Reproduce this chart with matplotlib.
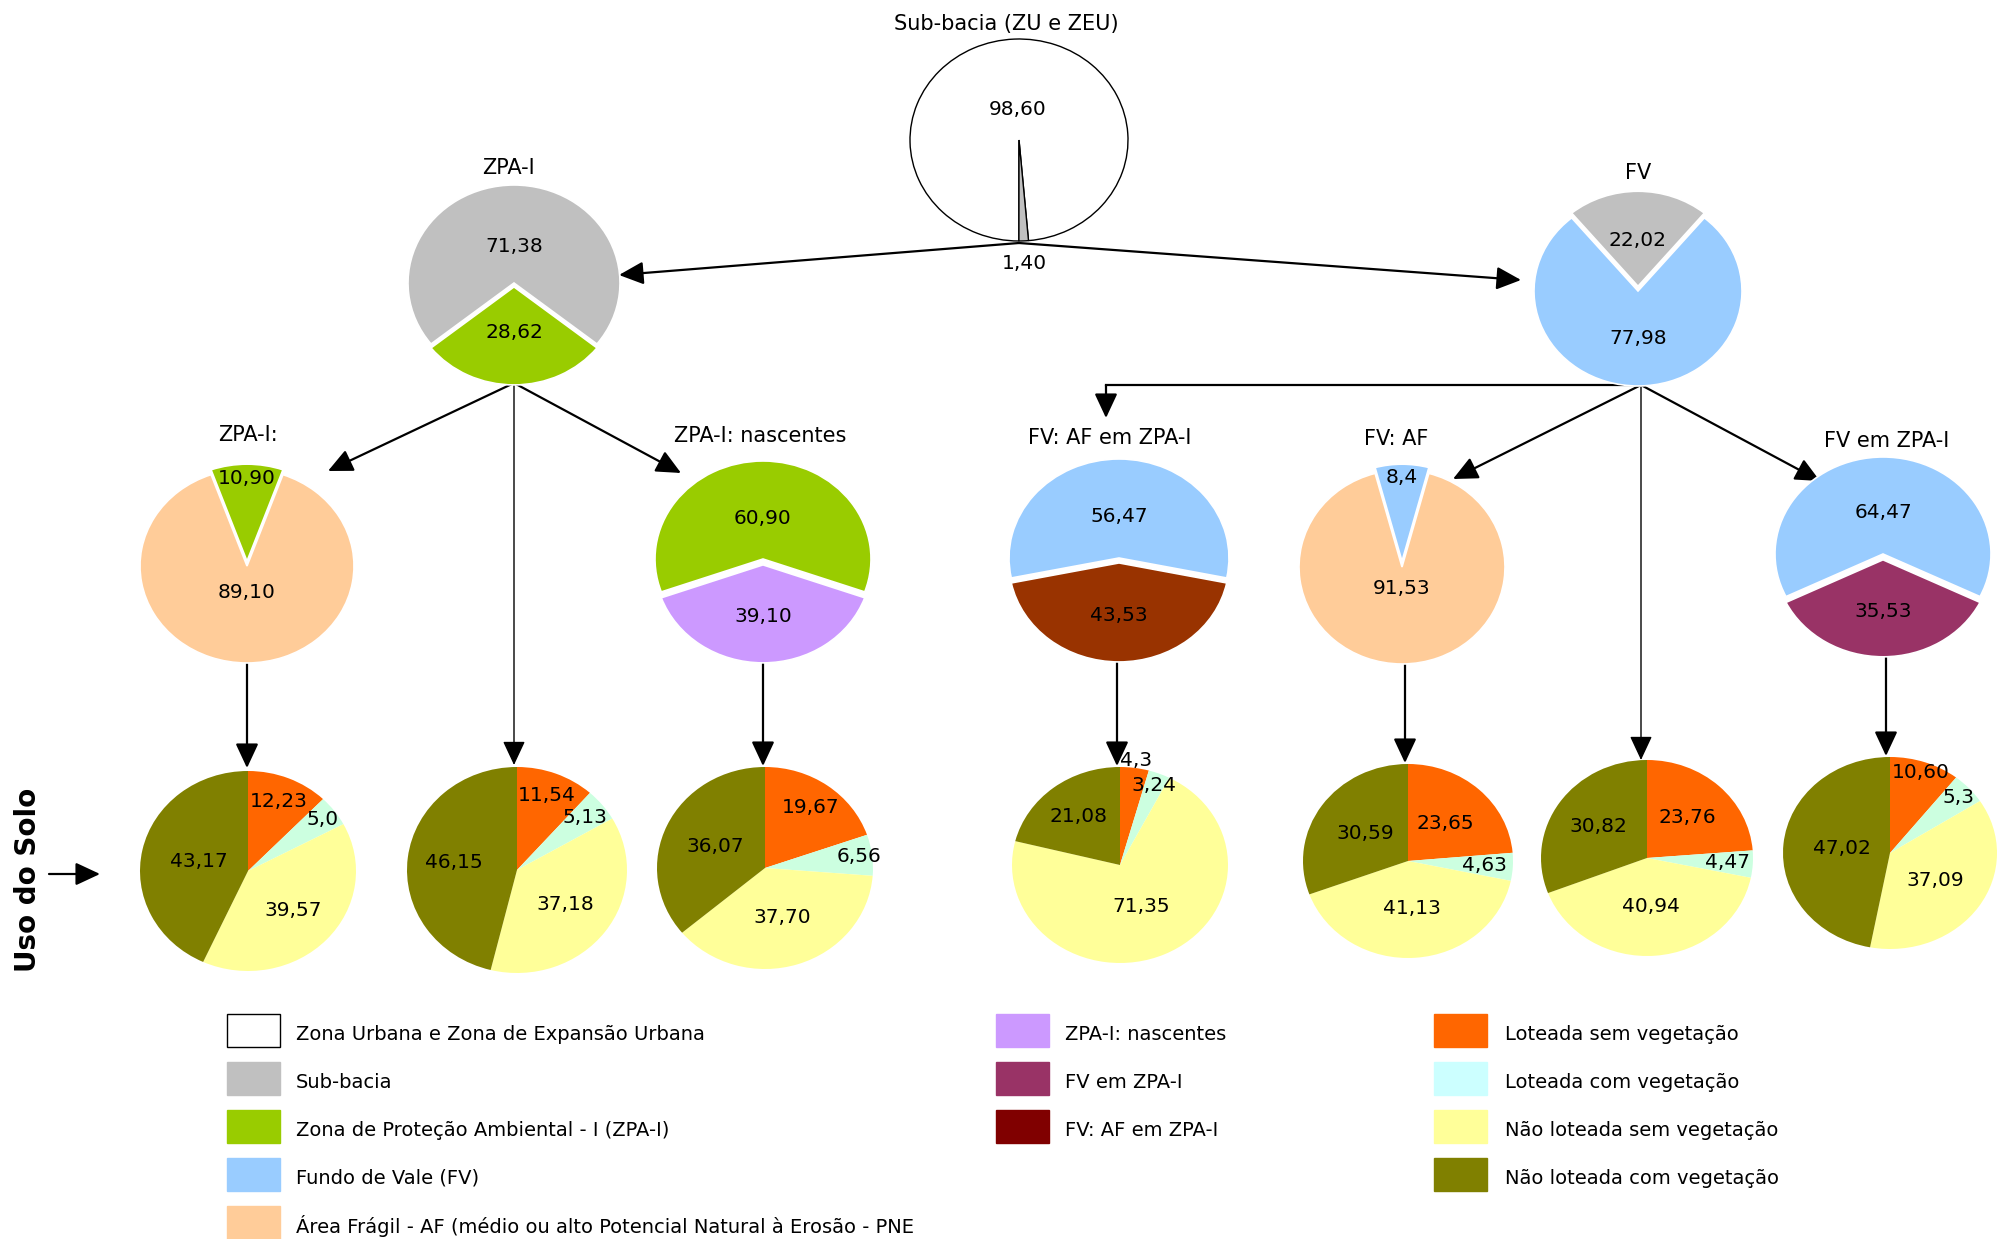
import matplotlib
matplotlib.use("Agg")
import matplotlib.pyplot as plt
from matplotlib.patches import Rectangle
import numpy as np

plt.rcParams["font.family"] = ["DejaVu Sans"]

W, H = 1997, 1239

# colours
WHITE = "#FFFFFF"
GRAY = "#C0C0C0"
GREEN = "#99CC00"
BLUE = "#99CCFF"
PEACH = "#FFCC99"
LILAC = "#CC99FF"
PLUM = "#993366"
RUST = "#993300"
MAROON = "#800000"
ORANGE = "#FF6600"
MINT = "#CCFFE0"
CYAN = "#CCFFFF"
YELLOW = "#FFFF99"
OLIVE = "#808000"

# percentages as printed (decimal comma)
sub_bacia = ["98,60", "1,40"]
zpa = ["71,38", "28,62"]
fv = ["22,02", "77,98"]
zpa_af = ["10,90", "89,10"]
zpa_nasc = ["60,90", "39,10"]
fv_af_zpa = ["56,47", "43,53"]
fv_af = ["8,4", "91,53"]
fv_zpa = ["64,47", "35,53"]

# land use: loteada s/ veg, loteada c/ veg, nao loteada s/ veg, nao loteada c/ veg
uso_zpa_af = ["12,23", "5,0", "39,57", "43,17"]
uso_zpa = ["11,54", "5,13", "37,18", "46,15"]
uso_zpa_nasc = ["19,67", "6,56", "37,70", "36,07"]
uso_fv_af_zpa = ["4,3", "3,24", "71,35", "21,08"]
uso_fv_af = ["23,65", "4,63", "41,13", "30,59"]
uso_fv = ["23,76", "4,47", "40,94", "30,82"]
uso_fv_zpa = ["10,60", "5,3", "37,09", "47,02"]

legend_zonas = ["Zona Urbana e Zona de Expansão Urbana", "Sub-bacia",
                "Zona de Proteção Ambiental - I (ZPA-I)", "Fundo de Vale (FV)",
                "Área Frágil - AF (médio ou alto Potencial Natural à Erosão - PNE"]
legend_sub = ["ZPA-I: nascentes", "FV em ZPA-I", "FV: AF em ZPA-I"]
legend_uso = ["Loteada sem vegetação", "Loteada com vegetação",
              "Não loteada sem vegetação", "Não loteada com vegetação"]

USO_COLORS = [ORANGE, MINT, YELLOW, OLIVE]

fig = plt.figure(figsize=(W / 100, H / 100), dpi=100)
ax = fig.add_axes([0, 0, 1, 1])
ax.set_xlim(0, W)
ax.set_ylim(H, 0)
ax.axis("off")


def num(s):
    return float(s.replace(",", "."))


def draw_pie(cx, cy, rx, ry, values, colors, lab_r, start=None, explode=None,
             counterclock=True, edge="white", lw=1.2, fs=14.5):
    pax = fig.add_axes([(cx - rx) / W, 1 - (cy + ry) / H, 2 * rx / W, 2 * ry / H])
    vals = [num(v) for v in values]
    if explode is None:
        explode = [0] * len(vals)
    if start is None:
        start = 90 - vals[0] * 1.8
    wedges, _ = pax.pie(vals, colors=colors, startangle=start, explode=explode,
                        counterclock=counterclock,
                        wedgeprops=dict(edgecolor=edge, linewidth=lw))
    pax.set_aspect("auto")
    pax.set_xlim(-1, 1)
    pax.set_ylim(-1, 1)
    pax.axis("off")
    for w, txt, r, e in zip(wedges, values, lab_r, explode):
        w.set_clip_on(False)
        mid = np.deg2rad((w.theta1 + w.theta2) / 2)
        pax.text((r + e) * np.cos(mid), (r + e) * np.sin(mid), txt,
                 ha="center", va="center", fontsize=fs, clip_on=False)
    return pax


def arrow(x0, y0, x1, y1, lw=1.6):
    ax.annotate("", xy=(x1, y1), xytext=(x0, y0),
                arrowprops=dict(arrowstyle="-|>,head_length=0.75,head_width=0.35",
                                mutation_scale=20, color="black", lw=lw,
                                shrinkA=0, shrinkB=0))


# connectors
arrow(1019, 243, 619, 275)
arrow(1019, 243, 1521, 280)
arrow(514, 383, 328, 471)
arrow(514, 383, 681, 473)
arrow(514, 383, 514, 765, lw=1.0)
ax.plot([1106, 1641], [385, 385], color="black", lw=1.6)
arrow(1106, 385, 1106, 418)
arrow(1641, 385, 1453, 479)
arrow(1641, 385, 1820, 481)
arrow(1641, 385, 1641, 760, lw=1.0)
arrow(247, 663, 247, 768)
arrow(763, 661, 763, 766)
arrow(1117, 662, 1117, 766)
arrow(1405, 664, 1405, 763)
arrow(1886, 656, 1886, 756)

TITLE_FS = 15

# top level
draw_pie(1019, 140, 109, 101, sub_bacia, [WHITE, GRAY], [0.3, 1.22], start=275,
         edge="black", lw=1.0)
ax.text(1006, 24, "Sub-bacia (ZU e ZEU)", ha="center", va="center", fontsize=TITLE_FS)

draw_pie(514, 283, 106, 98, zpa, [GRAY, GREEN], [0.37, 0.47], explode=[0, 0.04])
ax.text(508, 168, "ZPA-I", ha="center", va="center", fontsize=TITLE_FS)

draw_pie(1638, 291, 104, 95, fv, [GRAY, BLUE], [0.48, 0.5], explode=[0.05, 0])
ax.text(1638, 173, "FV", ha="center", va="center", fontsize=TITLE_FS)

# second level
draw_pie(247, 566, 107, 97, zpa_af, [GREEN, PEACH], [0.85, 0.27], explode=[0.05, 0])
ax.text(248, 435, "ZPA-I:", ha="center", va="center", fontsize=TITLE_FS)

draw_pie(763, 559, 108, 98, zpa_nasc, [GREEN, LILAC], [0.41, 0.53], explode=[0, 0.06])
ax.text(760, 436, "ZPA-I: nascentes", ha="center", va="center", fontsize=TITLE_FS)

draw_pie(1119, 558, 110, 99, fv_af_zpa, [BLUE, RUST], [0.42, 0.53], explode=[0, 0.05])
ax.text(1110, 438, "FV: AF em ZPA-I", ha="center", va="center", fontsize=TITLE_FS)

draw_pie(1402, 567, 103, 97, fv_af, [BLUE, PEACH], [0.86, 0.22], explode=[0.06, 0])
ax.text(1396, 439, "FV: AF", ha="center", va="center", fontsize=TITLE_FS)

draw_pie(1883, 554, 108, 97, fv_zpa, [BLUE, PLUM], [0.43, 0.53], explode=[0, 0.06])
ax.text(1887, 441, "FV em ZPA-I", ha="center", va="center", fontsize=TITLE_FS)

# land use pies
uso_kw = dict(start=90, counterclock=False, lw=0)
draw_pie(248, 871, 108, 100, uso_zpa_af, USO_COLORS, [0.75, 0.86, 0.58, 0.47], **uso_kw)
draw_pie(517, 870, 110, 103, uso_zpa, USO_COLORS, [0.77, 0.8, 0.55, 0.58], **uso_kw)
draw_pie(765, 868, 108, 101, uso_zpa_nasc, USO_COLORS, [0.73, 0.88, 0.51, 0.51], **uso_kw)
draw_pie(1120, 865, 108, 98, uso_fv_af_zpa, USO_COLORS, [1.08, 0.87, 0.47, 0.63], **uso_kw)
draw_pie(1408, 861, 105, 97, uso_fv_af, USO_COLORS, [0.53, 0.73, 0.49, 0.5], **uso_kw)
draw_pie(1647, 858, 106, 98, uso_fv, USO_COLORS, [0.56, 0.76, 0.5, 0.56], **uso_kw)
draw_pie(1890, 853, 107, 96, uso_fv_zpa, USO_COLORS, [0.89, 0.86, 0.51, 0.45], **uso_kw)

ax.text(28, 880, "Uso do Solo", rotation=90, ha="center", va="center",
        fontsize=20, fontweight="bold")
arrow(49, 874, 100, 874)

# legend
ROW0, ROW_STEP, BOX_W, BOX_H = 1014, 48, 53, 33
for col_x, labels, colors in [
    (227, legend_zonas, [WHITE, GRAY, GREEN, BLUE, PEACH]),
    (996, legend_sub, [LILAC, PLUM, MAROON]),
    (1434, legend_uso, [ORANGE, CYAN, YELLOW, OLIVE]),
]:
    for i, (lab, c) in enumerate(zip(labels, colors)):
        top = ROW0 + i * ROW_STEP
        ax.add_patch(Rectangle((col_x, top), BOX_W, BOX_H, facecolor=c,
                               edgecolor="black" if c == WHITE else c, lw=1))
        ax.text(col_x + BOX_W + 16 + (2 if col_x > 1000 else 0), top + 20, lab,
                ha="left", va="center", fontsize=14)

fig.savefig("out.png", dpi=100)
